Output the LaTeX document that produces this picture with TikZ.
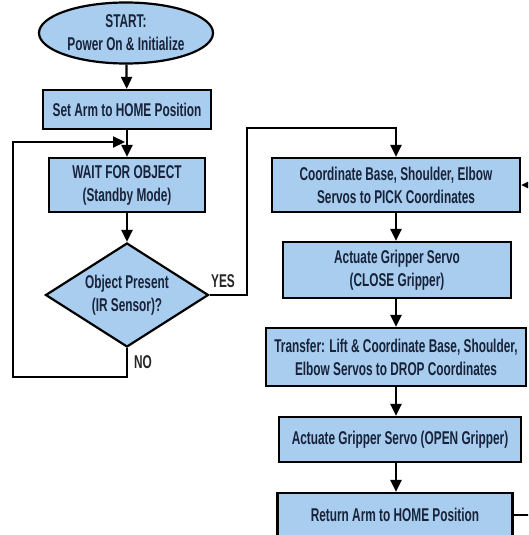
\documentclass[tikz,border=0pt]{standalone}
\usepackage{fontspec}
\setmainfont{Liberation Sans}[FakeStretch=0.64]
\usepackage{tikz}
\usetikzlibrary{shapes.geometric,arrows.meta}
\definecolor{boxblue}{HTML}{A9CDEF}
\definecolor{boxtext}{HTML}{18233A}

\begin{document}
\begin{tikzpicture}[x=1pt,y=-1pt,
    stepbox/.style={draw=black,line width=2.2pt,fill=boxblue,text=boxtext,
      font=\bfseries\fontsize{18.5}{23}\selectfont,align=center,inner sep=0pt},
    flow/.style={draw=black,line width=2.2pt,-{Triangle[length=12pt,width=11pt]}},
    tag/.style={font=\bfseries\fontsize{18.5}{20}\selectfont,text=black!85}]
  \clip (0,0) rectangle (528,535);
  \fill[white] (0,0) rectangle (528,535);

  \node[stepbox,ellipse,minimum width=174pt,minimum height=61pt] (start) at (126,33)
    {START:\\Power On \& Initialize};
  \node[stepbox,minimum width=168pt,minimum height=39pt] (home) at (127,109.5)
    {Set Arm to HOME Position};
  \node[stepbox,minimum width=156pt,minimum height=54pt] (wait) at (127,185)
    {WAIT FOR OBJECT\\(Standby Mode)};
  \node[stepbox,diamond,aspect=1.57,minimum width=163pt,minimum height=104pt] (check) at (127,295)
    {Object Present\\(IR Sensor)?};

  \node[stepbox,minimum width=248pt,minimum height=54pt] (pick) at (396,185)
    {Coordinate Base, Shoulder, Elbow\\Servos to PICK Coordinates};
  \node[stepbox,minimum width=228pt,minimum height=56pt] (close) at (397,270)
    {Actuate Gripper Servo\\(CLOSE Gripper)};
  \node[stepbox,minimum width=260pt,minimum height=58pt] (transfer) at (396,357)
    {Transfer: Lift \& Coordinate Base, Shoulder,\\Elbow Servos to DROP Coordinates};
  \node[stepbox,minimum width=242pt,minimum height=45pt] (open) at (400,439.5)
    {Actuate Gripper Servo (OPEN Gripper)};
  \node[stepbox,minimum width=235pt,minimum height=44pt] (ret) at (395,515)
    {Return Arm to HOME Position};

  \coordinate (merge) at (125,142);
  \coordinate (noturn) at (13,377);
  \coordinate (yesturn) at (247,128);

  \draw[flow] (start) -- (home);
  \draw[flow] (home) -- (wait);
  \draw[flow] (wait) -- (check);
  \draw[flow] (check.south) |- (noturn) |- (merge);
  \draw[flow] (check.east) -| (yesturn) -| (pick.north);
  \draw[flow] (pick.south) -- (pick.south |- close.north);
  \draw[flow] (pick.south |- close.south) -- (pick.south |- transfer.north);
  \draw[flow] (transfer.south) -- (transfer.south |- open.north);
  \draw[flow] (transfer.south |- open.south) -- (transfer.south |- ret.north);
  \draw[flow] (ret.east) -- ++(30,0) |- (pick.east);

  \node[tag] (yes) at (223,281) {YES};
  \node[tag] (no) at (143,362) {NO};
\end{tikzpicture}
\end{document}
